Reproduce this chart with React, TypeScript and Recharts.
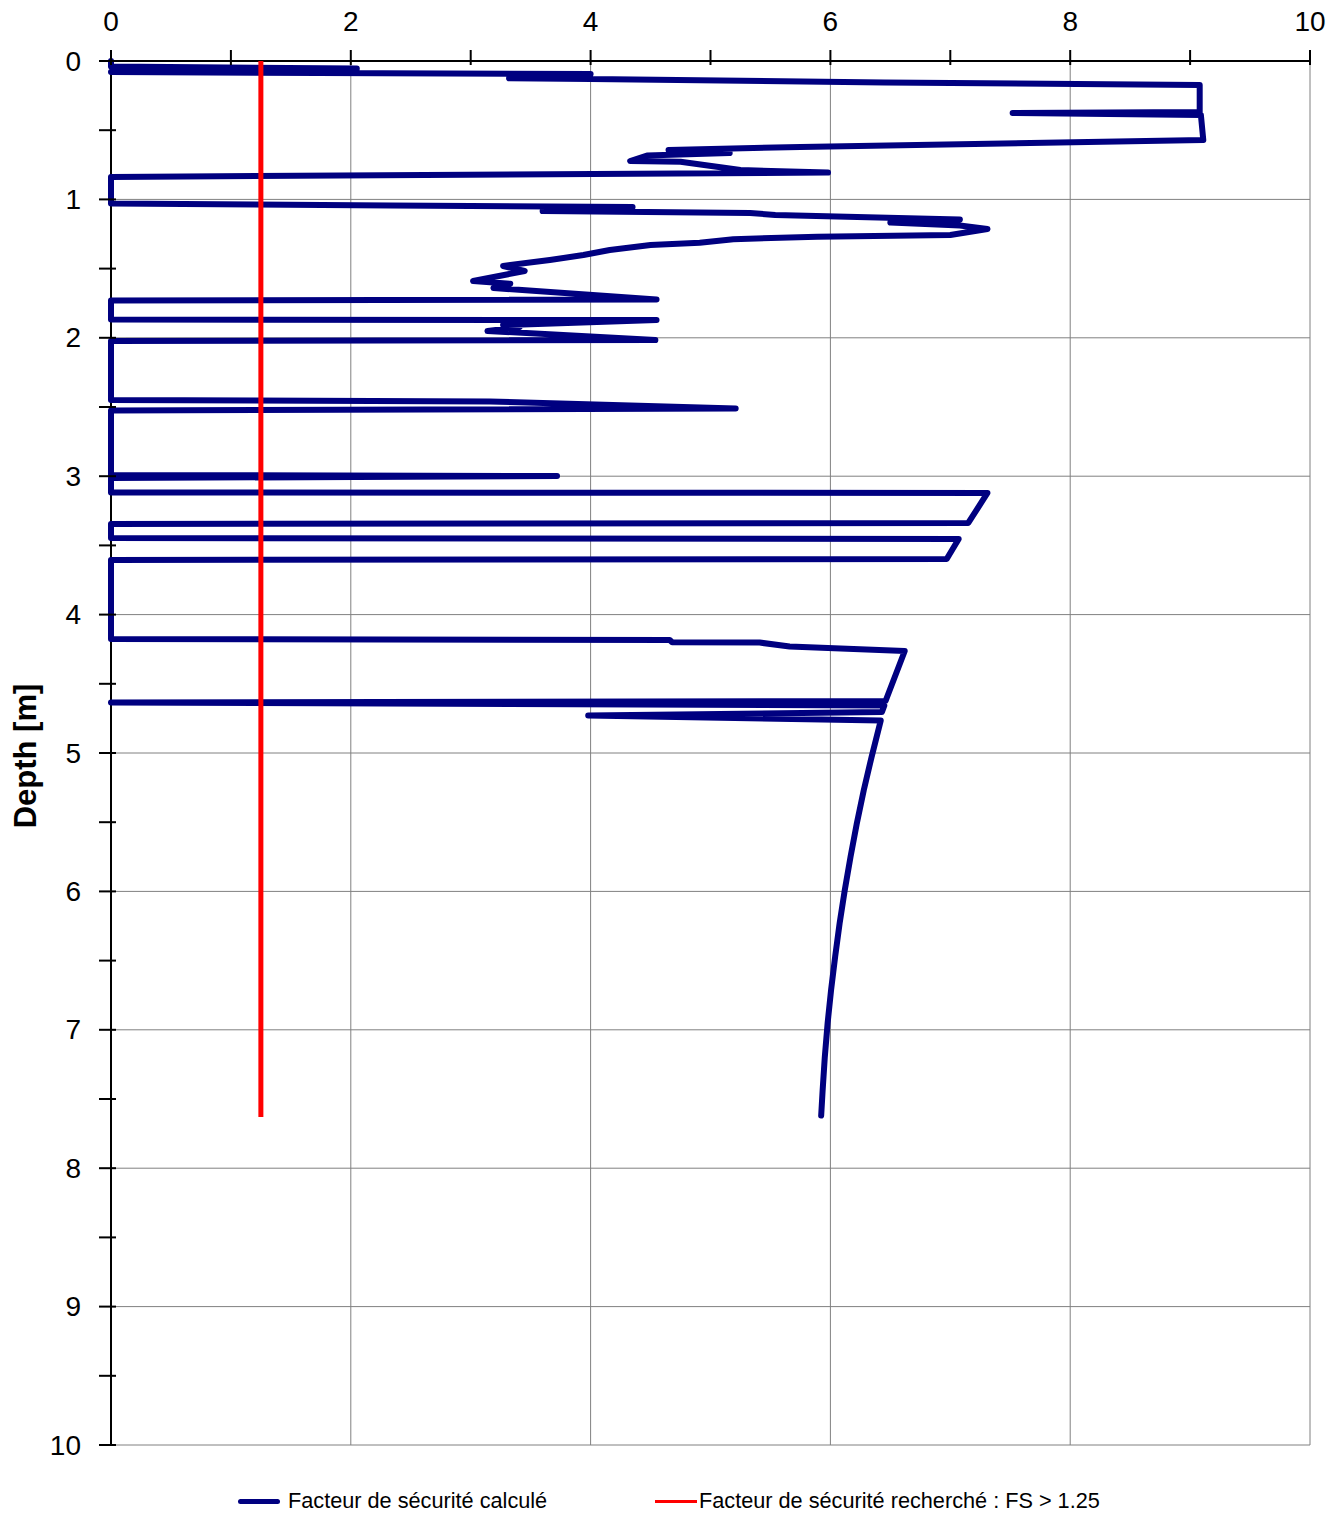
import { ScatterChart, Scatter, XAxis, YAxis, ReferenceLine } from "recharts";

const FONT = '"Liberation Sans", Arial, sans-serif';
const NAVY = "#000080";
const RED = "#ff0000";

// Facteur de sécurité calculé : FS value and depth [m] along the profile
const CALC_FS = [
  0, 0, 2.05, 0, 4.0, 3.32, 4.0, 6.45, 9.08, 9.08, 7.52, 9.09, 9.11, 5.75, 4.65, 5.16, 4.47, 4.33, 4.75, 5.25, 5.98, 0, 0,
  2.33, 4.35, 3.6, 5.33, 5.54, 7.08, 6.5, 7.08, 7.31, 7.0, 5.89, 5.19, 4.91, 4.5, 4.16, 3.94, 3.66, 3.27, 3.45, 3.02, 3.33, 3.19, 4.55, 0,
  0, 4.55, 3.27, 3.41, 3.14, 4.54, 0,
  0, 3.16, 5.21, 0,
  0, 3.72, 0, 0, 7.31, 7.15, 0, 0, 7.07, 6.97, 0,
  0, 4.66, 4.68, 5.41, 5.66, 6.62, 6.46, 0, 6.45, 6.43, 3.98, 6.42,
  6.343, 6.278, 6.22, 6.168, 6.12, 6.077, 6.04, 6.006, 5.977, 5.953, 5.935, 5.923,
];
const CALC_DEPTH = [
  0, 0.04, 0.055, 0.08, 0.094, 0.125, 0.13, 0.155, 0.173, 0.368, 0.376, 0.39, 0.571, 0.621, 0.643, 0.665, 0.683, 0.723, 0.728, 0.788, 0.806, 0.838, 1.03,
  1.044, 1.055, 1.084, 1.098, 1.113, 1.145, 1.167, 1.189, 1.214, 1.257, 1.269, 1.288, 1.313, 1.33, 1.366, 1.402, 1.438, 1.481, 1.517, 1.59, 1.61, 1.64, 1.723, 1.73,
  1.868, 1.872, 1.908, 1.922, 1.951, 2.016, 2.023,
  2.45, 2.46, 2.511, 2.525,
  2.991, 2.999, 3.013, 3.118, 3.121, 3.338, 3.345, 3.447, 3.454, 3.598, 3.605,
  4.176, 4.184, 4.2, 4.202, 4.23, 4.263, 4.624, 4.635, 4.657, 4.704, 4.729, 4.765,
  5.03, 5.27, 5.51, 5.75, 5.99, 6.23, 6.47, 6.71, 6.95, 7.2, 7.44, 7.62,
];

// Facteur de sécurité recherché : FS > 1.25
const TARGET_FS = [1.25, 1.25];
const TARGET_DEPTH = [0, 7.63];

const X_TICKS = [0, 1, 2, 3, 4, 5, 6, 7, 8, 9, 10];
const Y_TICKS = [0, 0.5, 1, 1.5, 2, 2.5, 3, 3.5, 4, 4.5, 5, 5.5, 6, 6.5, 7, 7.5, 8, 8.5, 9, 9.5, 10];
const GRID_X = [2, 4, 6, 8, 10];
const GRID_Y = [1, 2, 3, 4, 5, 6, 7, 8, 9, 10];

const calcData = CALC_FS.map((fs, i) => ({ fs, depth: CALC_DEPTH[i] }));
const targetData = TARGET_FS.map((fs, i) => ({ fs, depth: TARGET_DEPTH[i] }));

const noDot = () => <g />;

function TopTick({ x, y, payload }: any) {
  const v = payload.value;
  return (
    <g>
      <line x1={x} x2={x} y1={y - 9} y2={y + 6} stroke="#000" strokeWidth={2} />
      {v % 2 === 0 && (
        <text x={x} y={y - 38} textAnchor="middle" dominantBaseline="central" fontSize={28} fontFamily={FONT} fill="#000">
          {v}
        </text>
      )}
    </g>
  );
}

function LeftTick({ x, y, payload }: any) {
  const v = payload.value;
  return (
    <g>
      <line x1={x - 10} x2={x + 7} y1={y} y2={y} stroke="#000" strokeWidth={2} />
      {Number.isInteger(v) && (
        <text x={x - 28} y={y} textAnchor="end" dominantBaseline="central" fontSize={28} fontFamily={FONT} fill="#000">
          {v}
        </text>
      )}
    </g>
  );
}

function DepthLabel({ viewBox }: any) {
  const cx = viewBox.x - 26;
  const cy = viewBox.y + viewBox.height / 2 + 3;
  return (
    <text
      x={cx}
      y={cy}
      transform={`rotate(-90 ${cx} ${cy})`}
      textAnchor="middle"
      dominantBaseline="central"
      fontSize={31}
      fontWeight="bold"
      fontFamily={FONT}
      fill="#000"
    >
      Depth [m]
    </text>
  );
}

const legendRow = {
  position: "absolute" as const,
  top: 1489,
  height: 24,
  display: "flex",
  alignItems: "center",
  fontFamily: FONT,
  fontSize: 21.7,
  whiteSpace: "nowrap" as const,
};

export default function App() {
  return (
    <div style={{ position: "absolute", left: 0, top: 0, width: 1339, height: 1513, background: "#fff" }}>
      <ScatterChart width={1339} height={1513} margin={{ top: 21, right: 29, bottom: 68, left: 51 }}>
        {GRID_X.map((v) => (
          <ReferenceLine key={`gx${v}`} x={v} stroke="#808080" strokeWidth={1} />
        ))}
        {GRID_Y.map((v) => (
          <ReferenceLine key={`gy${v}`} y={v} stroke="#808080" strokeWidth={1} />
        ))}
        <XAxis
          type="number"
          dataKey="fs"
          orientation="top"
          domain={[0, 10]}
          ticks={X_TICKS}
          height={40}
          tickSize={0}
          tickLine={false}
          axisLine={{ stroke: "#000", strokeWidth: 2 }}
          tick={TopTick}
          interval={0}
        />
        <YAxis
          type="number"
          dataKey="depth"
          domain={[0, 10]}
          reversed
          ticks={Y_TICKS}
          width={60}
          tickSize={0}
          tickLine={false}
          axisLine={{ stroke: "#000", strokeWidth: 2 }}
          tick={LeftTick}
          interval={0}
          label={DepthLabel}
        />
        <Scatter
          data={calcData}
          fill={NAVY}
          shape={noDot}
          line={{ stroke: NAVY, strokeWidth: 6, strokeLinejoin: "round", strokeLinecap: "round" }}
          isAnimationActive={false}
        />
        <Scatter
          data={targetData}
          fill={RED}
          shape={noDot}
          line={{ stroke: RED, strokeWidth: 5 }}
          isAnimationActive={false}
        />
      </ScatterChart>

      {/* legend */}
      <div style={{ ...legendRow, left: 238 }}>
        <div style={{ width: 42, height: 5, borderRadius: 3, background: NAVY, marginRight: 8 }} />
        <span>Facteur de sécurité calculé</span>
      </div>
      <div style={{ ...legendRow, left: 655 }}>
        <div style={{ width: 42, height: 3, background: RED, marginRight: 2 }} />
        <span>Facteur de sécurité recherché : FS &gt; 1.25</span>
      </div>
    </div>
  );
}
